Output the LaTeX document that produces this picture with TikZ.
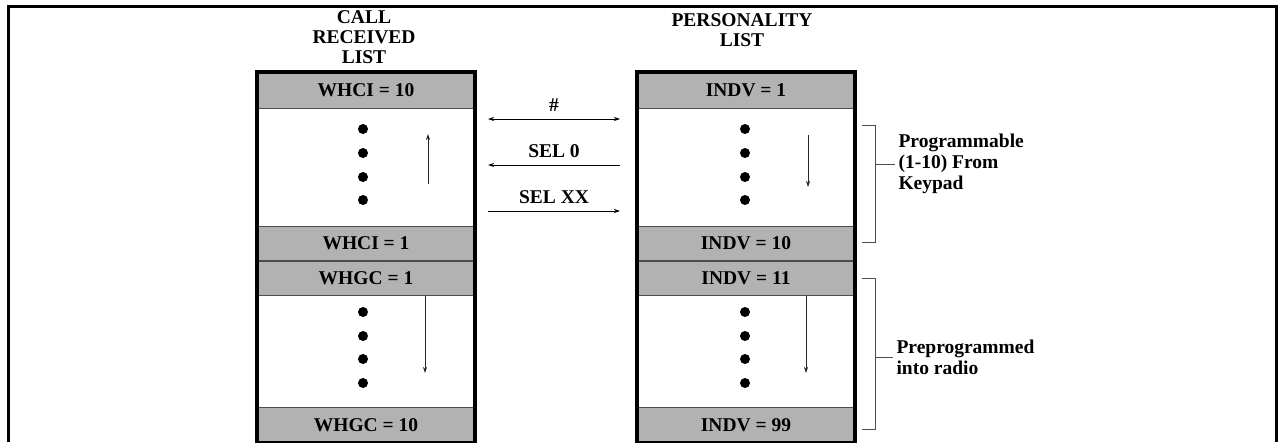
\documentclass[tikz,border=0pt]{standalone}
\usepackage{fontspec}
\setmainfont{Liberation Serif}
\usetikzlibrary{arrows.meta,positioning}

\begin{document}
\begin{tikzpicture}[x=1pt, y=-1pt, >={Stealth[length=6pt,width=4pt]},
  font=\fontsize{19.5}{20}\selectfont\bfseries,
  band/.style={draw=black!70, line width=0.8pt, fill=black!30, minimum width=218pt, minimum height=34pt, inner sep=0pt},
  slot/.style={minimum width=218pt, inner sep=0pt},
  frame/.style={line width=4pt},
  lab/.style={align=left, anchor=west, font=\fontsize{19.5}{21}\selectfont\bfseries},
  brk/.style={draw=black!70, line width=0.9pt},
  tick/.style={->, line width=0.7pt, draw=black!85}]
\useasboundingbox (0,0) rectangle (1279,442);
\draw[line width=3pt] (8,442) |- (1276,6) -- (1276,442);

% headings
\node[align=center] (crhead) at (364,37) {CALL\\RECEIVED\\LIST};
\node[align=center] (plhead) at (742,30) {PERSONALITY\\LIST};

% call received list
\node[band, minimum height=36pt] (whci10) at (366,90) {WHCI = 10};
\node[slot, minimum height=117pt, below=0pt of whci10] (crtop) {};
\node[band, below=0pt of crtop] (whci1) {WHCI = 1};
\node[band, below=0pt of whci1] (whgc1) {WHGC = 1};
\node[slot, minimum height=111pt, below=0pt of whgc1] (crbot) {};
\node[band, minimum height=35pt, below=0pt of crbot] (whgc10) {WHGC = 10};
\draw[frame] (whci10.north west) rectangle (whgc10.south east);

% personality list
\node[band, minimum height=36pt] (indv1) at (746,90) {INDV = 1};
\node[slot, minimum height=117pt, below=0pt of indv1] (pltop) {};
\node[band, below=0pt of pltop] (indv10) {INDV = 10};
\node[band, below=0pt of indv10] (indv11) {INDV = 11};
\node[slot, minimum height=111pt, below=0pt of indv11] (plbot) {};
\node[band, minimum height=35pt, below=0pt of plbot] (indv99) {INDV = 99};
\draw[frame] (indv1.north west) rectangle (indv99.south east);

% dots
\foreach \y in {129,153,177,200} {
  \fill (363,\y) circle (5pt);
  \fill (745,\y) circle (5pt);
}
\foreach \y in {312,336,359,383} {
  \fill (363,\y) circle (5pt);
  \fill (745,\y) circle (5pt);
}

% scroll direction
\coordinate (cra) at (428,184); \coordinate (crb) at (428,134);
\coordinate (crc) at (425,296); \coordinate (crd) at (425,373);
\coordinate (pla) at (808,135); \coordinate (plb) at (808,187);
\coordinate (plc) at (806,296); \coordinate (pld) at (806,373);
\draw[tick] (cra) -- (crb);
\draw[tick] (crc) -- (crd);
\draw[tick] (pla) -- (plb);
\draw[tick] (plc) -- (pld);

% keys
\coordinate (k1l) at (488,119); \coordinate (k1r) at (620,119);
\coordinate (k2l) at (488,165); \coordinate (k2r) at (620,165);
\coordinate (k3l) at (488,211); \coordinate (k3r) at (620,211);
\draw[<->, line width=0.8pt] (k1l) -- node[above=4pt]{\#} (k1r);
\draw[->, line width=0.8pt] (k2r) -- node[above=4pt]{SEL 0} (k2l);
\draw[->, line width=0.8pt] (k3l) -- node[above=4pt]{SEL XX} (k3r);

% brackets
\node[lab] (prog) at (895,164) {Programmable\\(1-10) From\\Keypad};
\node[lab] (prep) at (893,357) {Preprogrammed\\into radio};
\draw[brk] (862,125) -| (875,242) -- (862,242);
\draw[brk] (875,164) -- (prog.west);
\draw[brk] (862,278) -| (875,429) -- (862,429);
\draw[brk] (875,357) -- (prep.west);
\end{tikzpicture}
\end{document}
